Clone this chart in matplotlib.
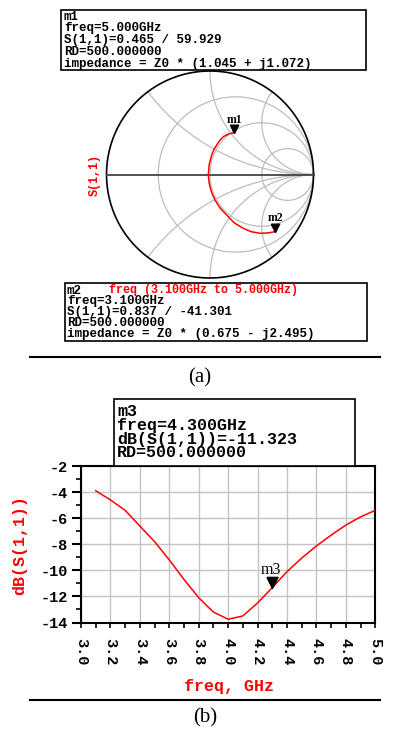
import matplotlib
matplotlib.use('Agg')
import matplotlib.pyplot as plt
import numpy as np
from matplotlib.patches import Rectangle
from matplotlib.ticker import MultipleLocator

W, H = 393, 733

# S(1,1) trace, 3.1 GHz (m2) -> 5.0 GHz (m1)
s11_re = [0.629, 0.560, 0.483, 0.400, 0.322, 0.235, 0.161, 0.098, 0.048, 0.018,
          0.000, -0.012, -0.016, -0.008, 0.016, 0.037, 0.065, 0.095, 0.129, 0.180, 0.233]
s11_im = [-0.552, -0.565, -0.568, -0.553, -0.520, -0.468, -0.391, -0.325, -0.246, -0.180,
          -0.118, -0.058, 0.000, 0.095, 0.188, 0.240, 0.285, 0.330, 0.365, 0.392, 0.403]

m1_mag, m1_ang = 0.465, 59.929
m2_mag, m2_ang = 0.837, -41.301
m1_lines = ['m1', 'freq=5.000GHz', 'S(1,1)=0.465 / 59.929', 'RD=500.000000',
            'impedance = Z0 * (1.045 + j1.072)']
m2_lines = ['m2', 'freq=3.100GHz', 'S(1,1)=0.837 / -41.301', 'RD=500.000000',
            'impedance = Z0 * (0.675 - j2.495)']
sweep_label = 'freq (3.100GHz to 5.000GHz)'

# constant resistance / reactance grid
r_circles = [1/3, 1, 3]
x_arcs = [0.5, 1, 2]

# dB(S(1,1)) vs frequency
freq = [3.1, 3.2, 3.3, 3.4, 3.5, 3.6, 3.7, 3.8, 3.9, 4.0,
        4.1, 4.2, 4.3, 4.4, 4.5, 4.6, 4.7, 4.8, 4.9, 5.0]
db_s11 = [-3.9, -4.6, -5.4, -6.6, -7.8, -9.2, -10.7, -12.1, -13.2, -13.75,
          -13.5, -12.5, -11.323, -10.1, -9.06, -8.13, -7.3, -6.53, -5.9, -5.4]
m3_freq, m3_db = 4.3, -11.323
m3_lines = ['m3', 'freq=4.300GHz', 'dB(S(1,1))=-11.323', 'RD=500.000000']
xticks = [3.0, 3.2, 3.4, 3.6, 3.8, 4.0, 4.2, 4.4, 4.6, 4.8, 5.0]
yticks = [-14, -12, -10, -8, -6, -4, -2]

MONO = ['Liberation Mono', 'DejaVu Sans Mono']
SERIF = ['Liberation Serif', 'DejaVu Serif']
TRI = [(-0.5, 1.0), (0.5, 1.0), (0.0, 0.0), (-0.5, 1.0)]


def fx(x):
    return x / W


def fy(y):
    return 1 - y / H


def box(fig, x0, y0, x1, y1):
    fig.add_artist(Rectangle((fx(x0), fy(y1)), fx(x1 - x0), (y1 - y0) / H,
                             transform=fig.transFigure, facecolor='white',
                             edgecolor='black', lw=1.2, zorder=10))


def box_text(fig, x, y0, pitch, lines, size):
    for i, s in enumerate(lines):
        fig.text(fx(x), fy(y0 + i * pitch), s, family=MONO, weight='bold',
                 fontsize=size, ha='left', va='baseline', zorder=11)


fig = plt.figure(figsize=(W / 100, H / 100), dpi=100)

# ---- (a) Smith chart ----
cx, cy, rad = 210.0, 174.5, 103.5
half = rad * 1.02
ax1 = fig.add_axes([fx(cx - half), fy(cy + half), 2 * half / W, 2 * half / H])
ax1.set_xlim(-1.02, 1.02)
ax1.set_ylim(-1.02, 1.02)
ax1.axis('off')

t = np.linspace(-np.pi / 2 + 1e-4, np.pi / 2 - 1e-4, 600)
for r in r_circles:
    z = r + 1j * np.tan(t)
    g = (z - 1) / (z + 1)
    ax1.plot(g.real, g.imag, color='#bdbdbd', lw=0.9)
u = np.linspace(0, np.pi / 2 - 1e-4, 600)
for x in x_arcs:
    for sgn in (1, -1):
        z = np.tan(u) + 1j * sgn * x
        g = (z - 1) / (z + 1)
        ax1.plot(g.real, g.imag, color='#bdbdbd', lw=0.9)
th = np.linspace(0, 2 * np.pi, 400)
ax1.plot(np.cos(th), np.sin(th), color='black', lw=1.2, clip_on=False)
ax1.plot([-1, 1], [0, 0], color='#444444', lw=1.3)
ax1.plot(s11_re, s11_im, color='red', lw=1.1)

for name, mag, ang in (('m1', m1_mag, m1_ang), ('m2', m2_mag, m2_ang)):
    px = mag * np.cos(np.radians(ang))
    py = mag * np.sin(np.radians(ang))
    ax1.plot(px, py, marker=TRI, ms=12, color='black', clip_on=False, zorder=5)
    ax1.annotate(name, (px, py), xytext=(0, 9.5), textcoords='offset points',
                 ha='center', va='center', family=SERIF, weight='bold', fontsize=8.5)

fig.text(fx(95), fy(175), 'S(1,1)', family=MONO, weight='bold', color='red',
         fontsize=8.5, rotation=90, ha='center', va='center')

box(fig, 61, 10, 366, 70)
box_text(fig, 64, 19.5, 11.9, m1_lines, 9)
box(fig, 65, 283, 367, 341)
box_text(fig, 67, 293.5, 10.9, m2_lines, 9)
fig.text(fx(109), fy(293.5), sweep_label, family=MONO, weight='bold', color='red',
         fontsize=8.5, ha='left', va='baseline', zorder=11)

fig.add_artist(plt.Line2D([fx(30), fx(380)], [fy(357), fy(357)],
                          transform=fig.transFigure, color='black', lw=1.5))
fig.text(fx(200), fy(378), '(a)', family=SERIF, fontsize=15, ha='center', va='center')

# ---- (b) return loss ----
left, right, top, bottom = 81, 375.3, 466, 622.5
ax2 = fig.add_axes([fx(left), fy(bottom), (right - left) / W, (bottom - top) / H])
ax2.plot(freq, db_s11, color='red', lw=1.1, zorder=3)
ax2.set_xlim(3.0, 5.0)
ax2.set_ylim(-14, -2)
ax2.set_xticks(xticks, labels=[f'{v:.1f}' for v in xticks])
ax2.set_yticks(yticks, labels=[str(v) for v in yticks])
ax2.xaxis.set_minor_locator(MultipleLocator(0.1))
ax2.yaxis.set_minor_locator(MultipleLocator(1))
ax2.grid(True, which='major', color='#c4c4c4', lw=1.0)
ax2.set_axisbelow(True)
for sp in ax2.spines.values():
    sp.set_linewidth(1.5)
ax2.tick_params(axis='y', which='major', length=6.5, width=1.5, pad=3)
ax2.tick_params(axis='y', which='minor', length=3.6, width=1.2)
ax2.tick_params(axis='x', which='both', length=3.6, width=1.2, pad=7.5)
for lab in ax2.get_xticklabels():
    lab.set_rotation(-90)
    lab.set_va('top')
    lab.set_ha('center')
for lab in ax2.get_xticklabels() + ax2.get_yticklabels():
    lab.set_family(MONO)
    lab.set_weight('bold')
    lab.set_fontsize(11)

ax2.plot(m3_freq, m3_db, marker=TRI, ms=16, color='black', zorder=5)
ax2.annotate('m3', (m3_freq, m3_db), xytext=(-1, 12.5), textcoords='offset points',
             ha='center', va='center', family=SERIF, fontsize=11.5)

fig.text(fx(229), fy(687), 'freq, GHz', family=MONO, weight='bold', color='red',
         fontsize=12, ha='center', va='center')
fig.text(fx(20), fy(545), 'dB(S(1,1))', family=MONO, weight='bold', color='red',
         fontsize=12, rotation=90, ha='center', va='center')

box(fig, 114, 399, 355, 466)
box_text(fig, 117, 416.5, 13.5, m3_lines, 12)

fig.add_artist(plt.Line2D([fx(30), fx(380)], [fy(700), fy(700)],
                          transform=fig.transFigure, color='black', lw=1.5))
fig.text(fx(205), fy(718), '(b)', family=SERIF, fontsize=15, ha='center', va='center')

fig.savefig('out.png', dpi=100)
